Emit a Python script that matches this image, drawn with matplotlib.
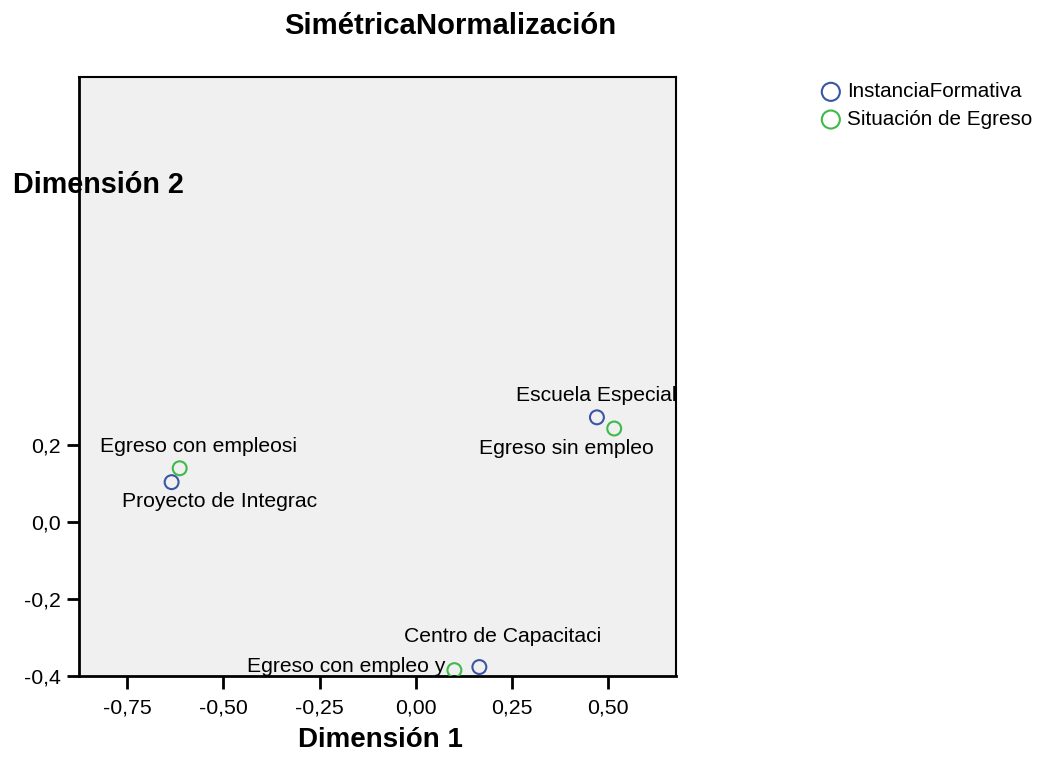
"""Symmetric normalization biplot (correspondence analysis)."""

import matplotlib
matplotlib.use("Agg")
import matplotlib.pyplot as plt

plt.rcParams["font.family"] = ["Liberation Sans", "DejaVu Sans"]

# row points (InstanciaFormativa)
inst_labels = ["Proyecto de Integrac", "Escuela Especial", "Centro de Capacitaci"]
inst_dim1 = [-0.635, 0.472, 0.166]
inst_dim2 = [0.103, 0.271, -0.376]

# column points (Situación de Egreso)
egr_labels = ["Egreso con empleosi", "Egreso sin empleo", "Egreso con empleo y"]
egr_dim1 = [-0.614, 0.517, 0.101]
egr_dim2 = [0.139, 0.242, -0.384]

x_ticks = [-0.75, -0.50, -0.25, 0.00, 0.25, 0.50]
x_tick_labels = ["-0,75", "-0,50", "-0,25", "0,00", "0,25", "0,50"]
y_ticks = [-0.4, -0.2, 0.0, 0.2]
y_tick_labels = ["-0,4", "-0,2", "0,0", "0,2"]

# label offsets in pixels (dx, dy) relative to each point
inst_offsets = [(48, -19), (-1, 22), (23, 31)]
egr_offsets = [(19, 22), (-48, -20), (-108, 4)]

BLUE = "#3a55a6"
GREEN = "#3dba48"

fig = plt.figure(figsize=(10.48, 7.57), dpi=100)
ax = fig.add_axes([0.0754, 0.1066, 0.5697, 0.7913])
ax.set_facecolor("#f0f0f0")

h1 = ax.scatter(inst_dim1, inst_dim2, s=100, facecolors="none", edgecolors=BLUE,
                linewidths=1.5, label="InstanciaFormativa", zorder=3)
h2 = ax.scatter(egr_dim1, egr_dim2, s=100, facecolors="none", edgecolors=GREEN,
                linewidths=1.5, label="Situación de Egreso", zorder=3)

for lab, x, y, off in zip(inst_labels, inst_dim1, inst_dim2, inst_offsets):
    ax.annotate(lab, (x, y), xytext=off, textcoords="offset pixels",
                ha="center", va="center", fontsize=15.2, annotation_clip=False)
for lab, x, y, off in zip(egr_labels, egr_dim1, egr_dim2, egr_offsets):
    ax.annotate(lab, (x, y), xytext=off, textcoords="offset pixels",
                ha="center", va="center", fontsize=15.2, annotation_clip=False)

ax.set_xlim(-0.876, 0.678)
ax.set_ylim(-0.4, 1.152)
ax.set_xticks(x_ticks)
ax.set_xticklabels(x_tick_labels)
ax.set_yticks(y_ticks)
ax.set_yticklabels(y_tick_labels)
ax.tick_params(direction="out", length=9, width=2, labelsize=15.3)
ax.tick_params(axis="x", pad=7)
ax.tick_params(axis="y", pad=4)

for side in ["left", "bottom"]:
    ax.spines[side].set_linewidth(2)
for side in ["top", "right"]:
    ax.spines[side].set_linewidth(1.5)

fig.text(0.43, 0.965, "SimétricaNormalización", ha="center", va="center",
         fontsize=21.1, fontweight="bold")
fig.text(0.3627, 0.0225, "Dimensión 1", ha="center", va="center",
         fontsize=20, fontweight="bold")
fig.text(0.0125, 0.755, "Dimensión 2", ha="left", va="center",
         fontsize=20.7, fontweight="bold")

fig.legend(handles=[h1, h2], loc="upper left", bbox_to_anchor=(0.775, 0.905),
           frameon=False, fontsize=14.9, markerscale=1.3, handlelength=0.8,
           handletextpad=0.4, labelspacing=0.42, borderpad=0)

fig.savefig("out.png", dpi=100)
